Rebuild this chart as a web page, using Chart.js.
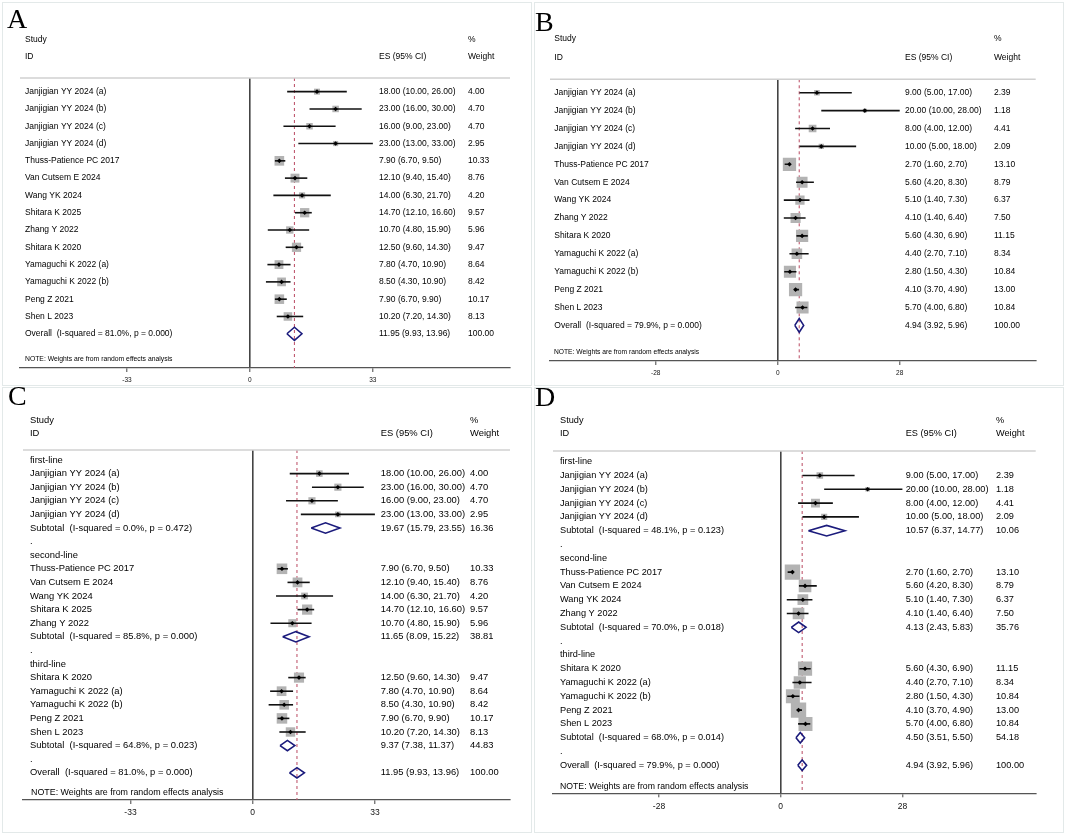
<!DOCTYPE html>
<html>
<head>
<meta charset="utf-8">
<script src="https://cdn.jsdelivr.net/npm/chart.js@4.4.1/dist/chart.umd.min.js"></script>
<style>
  body { margin: 0; background: #fff; width: 1065px; height: 834px; position: relative; overflow: hidden; }
  .box { position: absolute; border: 1px solid #e3e9e9; }
  canvas { position: absolute; }
  .tag { position: absolute; font: 28px/28px "Liberation Serif", "Times New Roman", serif; color: #000; }
</style>
</head>
<body>
<div class="box" style="left:2px;top:2px;width:528px;height:382px"></div>
<div class="box" style="left:534px;top:2px;width:528px;height:382px"></div>
<div class="box" style="left:2px;top:387px;width:528px;height:444px"></div>
<div class="box" style="left:534px;top:387px;width:528px;height:444px"></div>
<canvas id="cA" width="530" height="390" style="left:0;top:0"></canvas>
<canvas id="cB" width="535" height="390" style="left:530px;top:0"></canvas>
<canvas id="cC" width="530" height="444" style="left:0;top:390px"></canvas>
<canvas id="cD" width="535" height="444" style="left:530px;top:390px"></canvas>
<div class="tag" style="left:7px;top:5px">A</div>
<div class="tag" style="left:535px;top:8px">B</div>
<div class="tag" style="left:8px;top:382px">C</div>
<div class="tag" style="left:535px;top:383px">D</div>
<script>
// panel A / C studies (same order, C is grouped by line of therapy)
const studiesA = ['Janjigian YY 2024 (a)', 'Janjigian YY 2024 (b)', 'Janjigian YY 2024 (c)', 'Janjigian YY 2024 (d)',
  'Thuss-Patience PC 2017', 'Van Cutsem E 2024', 'Wang YK 2024', 'Shitara K 2025', 'Zhang Y 2022',
  'Shitara K 2020', 'Yamaguchi K 2022 (a)', 'Yamaguchi K 2022 (b)', 'Peng Z 2021', 'Shen L 2023'];
const esA = [18.00, 23.00, 16.00, 23.00, 7.90, 12.10, 14.00, 14.70, 10.70, 12.50, 7.80, 8.50, 7.90, 10.20];
const loA = [10.00, 16.00, 9.00, 13.00, 6.70, 9.40, 6.30, 12.10, 4.80, 9.60, 4.70, 4.30, 6.70, 7.20];
const hiA = [26.00, 30.00, 23.00, 33.00, 9.50, 15.40, 21.70, 16.60, 15.90, 14.30, 10.90, 10.90, 9.90, 14.30];
const wtA = [4.00, 4.70, 4.70, 2.95, 10.33, 8.76, 4.20, 9.57, 5.96, 9.47, 8.64, 8.42, 10.17, 8.13];
const lineA = ['first-line', 'first-line', 'first-line', 'first-line',
  'second-line', 'second-line', 'second-line', 'second-line', 'second-line',
  'third-line', 'third-line', 'third-line', 'third-line', 'third-line'];

// panel B / D studies
const studiesB = ['Janjigian YY 2024 (a)', 'Janjigian YY 2024 (b)', 'Janjigian YY 2024 (c)', 'Janjigian YY 2024 (d)',
  'Thuss-Patience PC 2017', 'Van Cutsem E 2024', 'Wang YK 2024', 'Zhang Y 2022',
  'Shitara K 2020', 'Yamaguchi K 2022 (a)', 'Yamaguchi K 2022 (b)', 'Peng Z 2021', 'Shen L 2023'];
const esB = [9.00, 20.00, 8.00, 10.00, 2.70, 5.60, 5.10, 4.10, 5.60, 4.40, 2.80, 4.10, 5.70];
const loB = [5.00, 10.00, 4.00, 5.00, 1.60, 4.20, 1.40, 1.40, 4.30, 2.70, 1.50, 3.70, 4.00];
const hiB = [17.00, 28.00, 12.00, 18.00, 2.70, 8.30, 7.30, 6.40, 6.90, 7.10, 4.30, 4.90, 6.80];
const wtB = [2.39, 1.18, 4.41, 2.09, 13.10, 8.79, 6.37, 7.50, 11.15, 8.34, 10.84, 13.00, 10.84];
const lineB = ['first-line', 'first-line', 'first-line', 'first-line',
  'second-line', 'second-line', 'second-line', 'second-line',
  'third-line', 'third-line', 'third-line', 'third-line', 'third-line'];

const groups = ['first-line', 'second-line', 'third-line'];

// subgroup pooled estimates
const subEsC = [19.67, 11.65, 9.37];
const subLoC = [15.79, 8.09, 7.38];
const subHiC = [23.55, 15.22, 11.37];
const subWtC = [16.36, 38.81, 44.83];
const subI2C = ['0.0%', '85.8%', '64.8%'];
const subPC = ['0.472', '0.000', '0.023'];

const subEsD = [10.57, 4.13, 4.50];
const subLoD = [6.37, 2.43, 3.51];
const subHiD = [14.77, 5.83, 5.50];
const subWtD = [10.06, 35.76, 54.18];
const subI2D = ['48.1%', '70.0%', '68.0%'];
const subPD = ['0.123', '0.018', '0.014'];

// overall estimates: [A/C, B/D]
const overallEs = [11.95, 4.94];
const overallLo = [9.93, 3.92];
const overallHi = [13.96, 5.96];
const overallI2 = ['81.0%', '79.9%'];
const overallP = ['0.000', '0.000'];

const ticksA = [-33, 0, 33];
const ticksB = [-28, 0, 28];

const FONT = '"Liberation Sans", Arial, sans-serif';
const NOTE = 'NOTE: Weights are from random effects analysis';

function overallRow(k) {
  return { type: 'overall', label: 'Overall  (I-squared = ' + overallI2[k] + ', p = ' + overallP[k] + ')',
    es: overallEs[k], lo: overallLo[k], hi: overallHi[k], wt: 100 };
}

function flatRows(names, es, lo, hi, wt, k) {
  let rows = names.map((n, i) => ({ type: 'study', label: n, es: es[i], lo: lo[i], hi: hi[i], wt: wt[i] }));
  rows.push(overallRow(k));
  return rows;
}

function groupedRows(names, es, lo, hi, wt, line, sEs, sLo, sHi, sWt, sI2, sP, k) {
  let rows = [];
  groups.forEach((g, j) => {
    rows.push({ type: 'header', label: g });
    names.forEach((n, i) => {
      if (line[i] === g) rows.push({ type: 'study', label: n, es: es[i], lo: lo[i], hi: hi[i], wt: wt[i] });
    });
    rows.push({ type: 'subtotal', label: 'Subtotal  (I-squared = ' + sI2[j] + ', p = ' + sP[j] + ')',
      es: sEs[j], lo: sLo[j], hi: sHi[j], wt: sWt[j] });
    rows.push({ type: 'dot', label: '.' });
  });
  rows.push(overallRow(k));
  return rows;
}

function esText(r) {
  return r.es.toFixed(2) + ' (' + r.lo.toFixed(2) + ', ' + r.hi.toFixed(2) + ')';
}

const panels = [
  { id: 'cA', rows: flatRows(studiesA, esA, loA, hiA, wtA, 0), k: 0, ticks: ticksA,
    xMin: -61.7, xMax: 69.8, yMin: -0.79, yMax: 15.98, noteRow: 15.46,
    pad: { left: 20, right: 20, top: 78, bottom: 2 }, font: 8.5, noteFont: 6.8, tickFont: 6.5, tickPad: 4,
    col: { study: 25, es: 379, wt: 468, note: 25 }, head: [40, 57], box: 3.0 },
  { id: 'cB', rows: flatRows(studiesB, esB, loB, hiB, wtB, 1), k: 1, ticks: ticksB,
    xMin: -52.26, xMax: 59.21, yMin: -0.75, yMax: 14.99, noteRow: 14.5,
    pad: { left: 20, right: 29.3, top: 79.3, bottom: 9 }, font: 8.5, noteFont: 6.7, tickFont: 6.5, tickPad: 4,
    col: { study: 24.3, es: 375, wt: 464, note: 24 }, head: [39, 57.3], box: 3.67 },
  { id: 'cC', rows: groupedRows(studiesA, esA, loA, hiA, wtA, lineA, subEsC, subLoC, subHiC, subWtC, subI2C, subPC, 0), k: 0, ticks: ticksA,
    xMin: -62.03, xMax: 69.48, yMin: -0.735, yMax: 25.0, noteRow: 24.46,
    pad: { left: 23, right: 20, top: 60, bottom: 14 }, font: 9.4, noteFont: 8.9, tickFont: 8.5, tickPad: 4,
    col: { study: 30, es: 380.7, wt: 470, note: 31 }, head: [30, 43.3], box: 3.3 },
  { id: 'cD', rows: groupedRows(studiesB, esB, loB, hiB, wtB, lineB, subEsD, subLoD, subHiD, subWtD, subI2D, subPD, 1), k: 1, ticks: ticksB,
    xMin: -52.39, xMax: 58.67, yMin: -0.775, yMax: 24.03, noteRow: 23.55,
    pad: { left: 23, right: 29.3, top: 61, bottom: 20.7 }, font: 9.2, noteFont: 8.7, tickFont: 8.5, tickPad: 4,
    col: { study: 30, es: 375.7, wt: 466, note: 30 }, head: [30, 43], box: 4.25 }
];

function textLayer(p) {
  return {
    id: 'text_' + p.id,
    afterDraw(chart) {
      let ctx = chart.ctx, ys = chart.scales.y, ca = chart.chartArea;
      ctx.save();
      ctx.strokeStyle = '#d0d0d0';
      ctx.lineWidth = 1.4;
      ctx.beginPath();
      ctx.moveTo(ca.left, ca.top);
      ctx.lineTo(ca.right, ca.top);
      ctx.stroke();

      ctx.fillStyle = '#000';
      ctx.textBaseline = 'middle';
      ctx.font = p.font + 'px ' + FONT;
      ctx.fillText('Study', p.col.study, p.head[0]);
      ctx.fillText('ID', p.col.study, p.head[1]);
      ctx.fillText('ES (95% CI)', p.col.es, p.head[1]);
      ctx.fillText('%', p.col.wt, p.head[0]);
      ctx.fillText('Weight', p.col.wt, p.head[1]);

      p.rows.forEach((r, i) => {
        let y = ys.getPixelForValue(i);
        ctx.fillText(r.label, p.col.study, y);
        if (r.es !== undefined) {
          ctx.fillText(esText(r), p.col.es, y);
          ctx.fillText(r.wt.toFixed(2), p.col.wt, y);
        }
      });

      ctx.font = p.noteFont + 'px ' + FONT;
      ctx.fillText(NOTE, p.col.note, ys.getPixelForValue(p.noteRow));
      ctx.restore();
    }
  };
}

function makeDatasets(p) {
  let studyIdx = [], sumIdx = [];
  p.rows.forEach((r, i) => {
    if (r.type === 'study') studyIdx.push(i);
    else if (r.type === 'subtotal' || r.type === 'overall') sumIdx.push(i);
  });
  let ds = [];
  // point estimates on top
  ds.push({ data: studyIdx.map(i => ({ x: p.rows[i].es, y: i })), pointStyle: 'rectRot',
    pointRadius: 2.3, backgroundColor: '#000', borderWidth: 0 });
  // confidence intervals
  studyIdx.forEach(i => {
    let r = p.rows[i];
    ds.push({ data: [{ x: r.lo, y: i }, { x: r.hi, y: i }], showLine: true,
      borderColor: '#111', borderWidth: 1.6, pointRadius: 0 });
  });
  // pooled diamonds
  const h = 0.38;
  sumIdx.forEach(i => {
    let r = p.rows[i];
    ds.push({ data: [{ x: r.lo, y: i }, { x: r.es, y: i - h }, { x: r.hi, y: i }, { x: r.es, y: i + h }, { x: r.lo, y: i }],
      showLine: true, borderColor: '#1b1b7c', borderWidth: 1.6, pointRadius: 0, borderJoinStyle: 'miter', tension: 0 });
  });
  // weight boxes
  ds.push({ data: studyIdx.map(i => ({ x: p.rows[i].es, y: i })), pointStyle: 'rect',
    pointRadius: studyIdx.map(i => p.box * Math.sqrt(p.rows[i].wt) / Math.SQRT2),
    backgroundColor: '#b3b3b3', borderWidth: 0 });
  // overall reference line
  ds.push({ data: [{ x: overallEs[p.k], y: p.yMin }, { x: overallEs[p.k], y: p.yMax }], showLine: true,
    borderColor: '#c05a70', borderWidth: 1.1, borderDash: [3, 3], pointRadius: 0 });
  return ds;
}

panels.forEach(p => {
  new Chart(document.getElementById(p.id), {
    type: 'scatter',
    data: { datasets: makeDatasets(p) },
    options: {
      responsive: false,
      animation: false,
      events: [],
      layout: { padding: p.pad },
      plugins: { legend: { display: false }, tooltip: { enabled: false } },
      scales: {
        x: {
          type: 'linear', min: p.xMin, max: p.xMax,
          afterBuildTicks: s => { s.ticks = p.ticks.map(v => ({ value: v })); },
          afterFit: s => { s.height = 20; },
          ticks: { font: { size: p.tickFont, family: FONT }, color: '#111', padding: p.tickPad,
            maxRotation: 0, autoSkip: false, callback: v => String(v) },
          grid: { drawOnChartArea: true, drawTicks: true, tickLength: 4, tickColor: '#444', tickWidth: 1,
            color: c => (c.tick && c.tick.value === 0) ? '#444' : 'rgba(0,0,0,0)', lineWidth: 1.6 },
          border: { display: true, color: '#555', width: 1.3 }
        },
        y: { type: 'linear', reverse: true, min: p.yMin, max: p.yMax, display: false }
      }
    },
    plugins: [textLayer(p)]
  });
});
</script>
</body>
</html>
